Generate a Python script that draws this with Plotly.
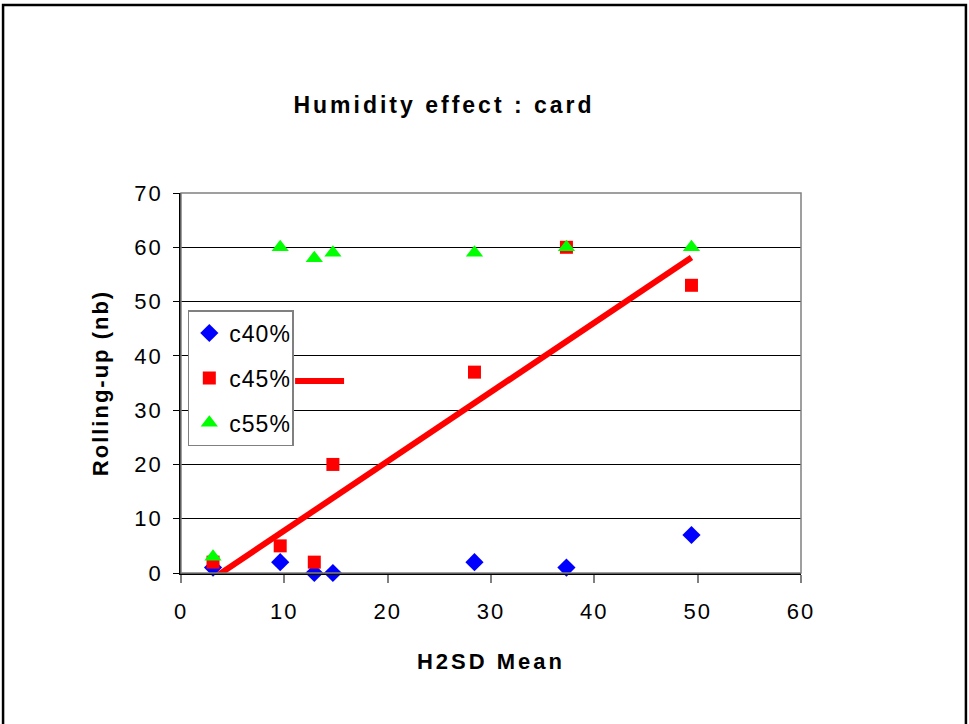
import plotly.graph_objects as go

# H2SD mean for each card sample
h2sd_mean = [3.1, 9.6, 12.9, 14.7, 28.4, 37.3, 49.4]

# Rolling-up counts per humidity conditioning
c40 = [1, 2, 0, 0, 2, 1, 7]
c45 = [2, 5, 2, 20, 37, 60, 53]
c55 = [3, 60, 58, 59, 59, 60, 60]

# Linear trend fitted on the c45% series
trend_slope = 1.277
trend_intercept = -4.96

x_ticks = [0, 10, 20, 30, 40, 50, 60]
y_ticks = [0, 10, 20, 30, 40, 50, 60, 70]

FONT = "Arial, 'Liberation Sans', sans-serif"

fig = go.Figure()

series = [
    ("c40%", c40, "diamond", "#0000FF", 14),
    ("c45%", c45, "square", "#FF0000", 13),
    ("c55%", c55, "triangle-up", "#00FF00", 15),
]
for name, vals, sym, col, size in series:
    fig.add_trace(go.Scatter(
        x=h2sd_mean, y=vals, mode="markers", name=name,
        legendgroup=name,
        marker=dict(symbol=sym, color=col, size=size, line=dict(width=0)),
        cliponaxis=False,
    ))

trend_x = [min(h2sd_mean), max(h2sd_mean)]
trend_y = [trend_slope * v + trend_intercept for v in trend_x]
fig.add_trace(go.Scatter(
    x=trend_x, y=trend_y, mode="lines", name="Linear (c45%)",
    line=dict(color="#FF0000", width=6), showlegend=False,
))

# plot-area frame (grey) on the top and right
fig.add_shape(type="rect", xref="paper", yref="paper", x0=0, x1=1, y0=0, y1=1,
              line=dict(color="#808080", width=1.5), layer="above")
# outer chart border
fig.add_shape(type="rect", xref="paper", yref="paper",
              x0=-0.287, x1=1.266, y0=-0.41, y1=1.495,
              line=dict(color="black", width=2.5), layer="above")
# legend key line of the trend entry sticking out of the legend box
fig.add_shape(type="line", xref="paper", yref="paper",
              x0=0.184, x1=0.263, y0=0.505, y1=0.505,
              line=dict(color="#FF0000", width=6), layer="above")

fig.update_layout(
    width=969, height=724,
    margin=dict(l=181, r=168, t=193, b=151),
    paper_bgcolor="white", plot_bgcolor="white",
    font=dict(family=FONT, color="black", size=20),
    title=dict(text="<b>Humidity effect : card</b>", x=444 / 969, xanchor="center",
               y=1 - 105 / 724, yanchor="middle",
               font=dict(size=23, family=FONT, color="black")),
    showlegend=True,
    legend=dict(x=0.011, y=0.692, xanchor="left", yanchor="top",
                bgcolor="white", bordercolor="#808080", borderwidth=1.5,
                font=dict(size=23, family=FONT, color="black"),
                tracegroupgap=12, traceorder="grouped", itemwidth=30),
    xaxis=dict(range=[0, 60], tickvals=x_ticks, showgrid=False, zeroline=False,
               showline=True, linecolor="black", linewidth=1.5,
               ticks="outside", ticklen=8, tickcolor="#808080", tickwidth=1.5,
               ticklabelstandoff=10,
               tickfont=dict(size=22, family=FONT),
               title=dict(text="<b>H2SD Mean</b>", standoff=30,
                          font=dict(size=22, family=FONT))),
    yaxis=dict(range=[0, 70], tickvals=y_ticks, showgrid=True, gridcolor="black",
               gridwidth=1, zeroline=False,
               showline=True, linecolor="black", linewidth=1.5,
               ticks="outside", ticklen=6, tickcolor="black", tickwidth=1,
               ticklabelstandoff=6,
               tickfont=dict(size=22, family=FONT),
               title=dict(text="<b>Rolling-up (nb)</b>", standoff=24,
                          font=dict(size=22, family=FONT))),
)

# wider character tracking for the chart texts
tracking_js = """
var gd = document.getElementById('{plot_id}');
function track(sel, px) {
  gd.querySelectorAll(sel).forEach(function (t) { t.style.letterSpacing = px; });
}
track('.gtitle', '3px');
track('.xtitle', '3px');
track('.ytitle', '2px');
track('.xtick text', '2px');
track('.ytick text', '2px');
track('.legendtext', '1px');
"""

fig.write_html("out.html", post_script=tracking_js)
